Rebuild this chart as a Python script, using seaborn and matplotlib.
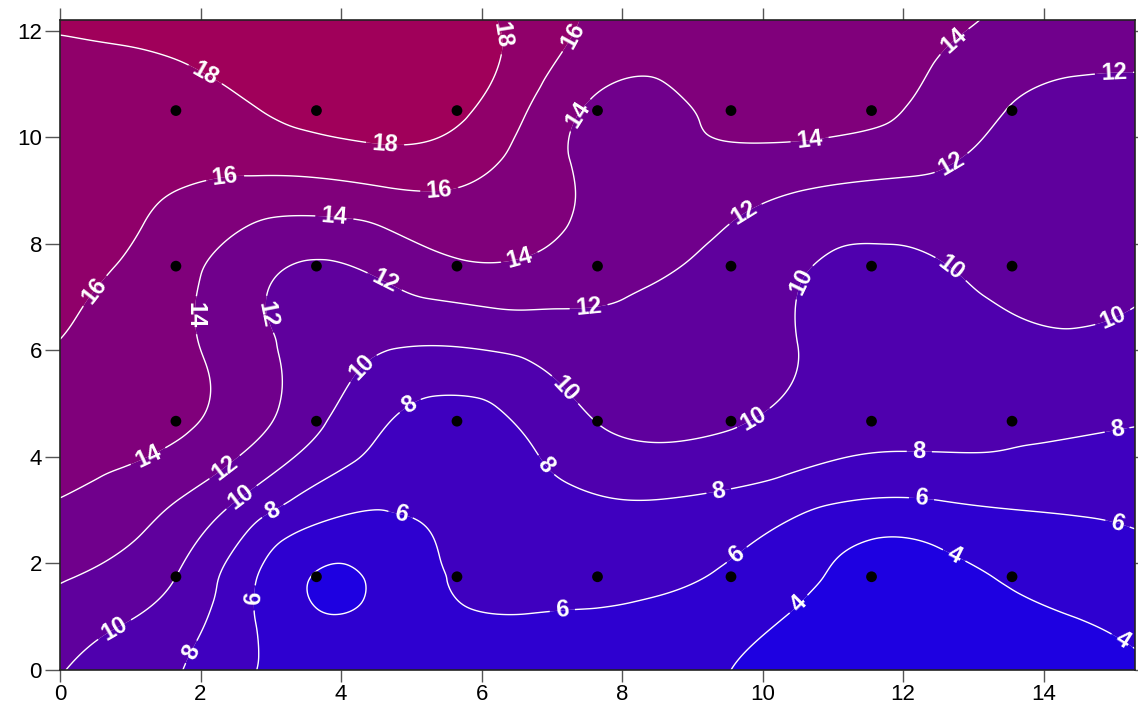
import numpy as np
import matplotlib
matplotlib.use("Agg")
import matplotlib.pyplot as plt
import matplotlib.tri as mtri
from matplotlib.colors import LinearSegmentedColormap, Normalize
import seaborn as sns
import pandas as pd

# ---- field values ----
# main nodes (columns through the sample dots plus the frame edges)
grid_x = [0.0, 1.65, 3.65, 5.65, 7.65, 9.55, 11.55, 13.55, 15.3]
grid_y = [0.0, 1.75, 4.67, 7.58, 10.5, 12.2]
z_row_00 = [10.1, 8.15, 4.8, 5.3, 5.2, 4.0, 3.3, 3.4, 3.8]
z_row_01 = [12.2, 10.0, 3.9, 6.2, 6.65, 5.65, 3.5, 4.2, 5.2]
z_row_02 = [15.2, 14.4, 10.4, 7.25, 10.05, 10.2, 8.8, 8.6, 8.15]
z_row_03 = [16.7, 14.8, 11.8, 13.7, 12.9, 11.3, 9.6, 10.55, 10.4]
z_row_04 = [17.5, 17.2, 18.6, 18.4, 13.6, 14.5, 14.4, 11.9, 11.65]
z_row_05 = [18.1, 18.5, 19.0, 18.5, 15.6, 15.2, 14.7, 13.6, 12.6]

# cell-centre nodes
mid_x = [0.825, 2.65, 4.65, 6.65, 8.6, 10.55, 12.55, 14.425]
mid_y = [0.875, 3.21, 6.125, 9.04, 11.35]
m_row_0 = [10.1, 6.4, 4.7, 5.8, 5.4, 3.7, 3.3, 3.9]
m_row_1 = [13.3, 9.7, 6.35, 7.3, 8.0, 6.7, 6.1, 6.4]
m_row_2 = [15.4, 12.8, 10.2, 10.6, 11.3, 9.95, 9.3, 9.8]
m_row_3 = [16.65, 15.5, 15.95, 15.0, 13.1, 12.1, 11.5, 11.15]
m_row_4 = [17.75, 18.5, 19.1, 17.0, 14.3, 14.6, 13.85, 12.2]

# a few extra nodes read on contour lines
extra_x = [11.55, 12.5, 7.25]
extra_y = [2.45, 2.3, 9.6]
extra_z = [4.0, 4.0, 14.0]

# sample points (black dots)
sample_x = [1.65, 3.65, 5.65, 7.65, 9.55, 11.55, 13.55]
sample_y = [1.75, 4.67, 7.58, 10.5]

levels = [2, 4, 6, 8, 10, 12, 14, 16, 18, 20]
x_ticks = [0, 2, 4, 6, 8, 10, 12, 14]
y_ticks = [0, 2, 4, 6, 8, 10, 12]

# label anchor points (where the reference puts the contour labels)
label_pos = [
    (2.06, 11.16), (4.62, 9.76), (6.07, 11.86),
    (0.57, 7.04), (2.35, 9.23), (5.4, 9.0), (7.18, 12.0),
    (1.28, 3.94), (2.06, 6.66), (3.91, 8.59), (6.54, 7.73), (7.18, 10.6),
    (10.67, 9.94), (12.66, 11.9),
    (2.3, 3.88), (2.92, 6.66), (4.69, 7.47), (7.54, 6.6), (9.74, 8.59),
    (12.66, 9.57), (15.0, 11.22),
    (0.78, 0.75), (2.56, 3.28), (4.34, 5.63), (7.18, 5.25), (9.89, 4.69),
    (10.44, 7.37), (12.63, 7.45), (15.0, 6.57),
    (1.81, 0.38), (3.06, 2.91), (4.95, 5.03), (6.97, 3.9), (9.39, 3.25),
    (12.23, 4.07), (15.05, 4.47),
    (2.82, 1.35), (4.84, 2.87), (7.16, 0.94), (9.67, 2.1), (12.26, 3.19),
    (15.05, 2.74),
    (10.38, 1.41), (12.73, 2.16), (15.08, 0.47),
]

# ---- figure ----
sns.set_theme(style="ticks")
plt.rcParams['font.family'] = ['Liberation Sans', 'DejaVu Sans']

fig = plt.figure(figsize=(11.38, 7.05), dpi=100)
ax = fig.add_axes([60/1138, 1-670/705, (1135-60)/1138, (670-20)/705])

GX, GY = np.meshgrid(grid_x, grid_y)
GZ = np.array([z_row_00, z_row_01, z_row_02, z_row_03, z_row_04, z_row_05])
MX, MY = np.meshgrid(mid_x, mid_y)
MZ = np.array([m_row_0, m_row_1, m_row_2, m_row_3, m_row_4])

px = np.concatenate([GX.ravel(), MX.ravel(), extra_x])
py = np.concatenate([GY.ravel(), MY.ravel(), extra_y])
pz = np.concatenate([GZ.ravel(), MZ.ravel(), extra_z])
tri = mtri.Triangulation(px, py)
interp = mtri.CubicTriInterpolator(tri, pz, kind='min_E')

eps = 1e-6
fx = np.linspace(grid_x[0] + eps, grid_x[-1] - eps, 500)
fy = np.linspace(grid_y[0] + eps, grid_y[-1] - eps, 400)
FX, FY = np.meshgrid(fx, fy)
FZ = np.ma.filled(interp(FX, FY), np.nan)

cmap = LinearSegmentedColormap.from_list("rb", ["#1E00E1", "#A0005A"])
norm = Normalize(vmin=3, vmax=19)
band_colors = [cmap(norm((levels[i] + levels[i+1]) / 2)) for i in range(len(levels)-1)]

ax.contourf(FX, FY, FZ, levels=levels, colors=band_colors, antialiased=True)
cs = ax.contour(FX, FY, FZ, levels=levels, colors='white', linewidths=1.0)
lbls = ax.clabel(cs, fmt='%d', fontsize=17, colors='white', inline=True,
                 inline_spacing=6, manual=label_pos)
for t in lbls:
    t.set_fontweight('bold')

SX, SY = np.meshgrid(sample_x, sample_y)
pts = pd.DataFrame({"x": SX.ravel(), "y": SY.ravel()})
sns.scatterplot(data=pts, x="x", y="y", ax=ax, color="black", s=60,
                edgecolor="none", marker="o", zorder=5)

ax.set_xlim(0, 15.3)
ax.set_ylim(0, 12.2)
ax.set_xticks(x_ticks)
ax.set_yticks(y_ticks)
ax.set_xlabel("")
ax.set_ylabel("")
ax.tick_params(axis='x', direction='out', top=True, labeltop=False,
               length=8.6, width=1.0, color='#555555', labelsize=16,
               labelcolor='black', pad=1.5)
ax.tick_params(axis='y', direction='out', right=True, labelright=False,
               length=11, width=1.0, color='#555555', labelsize=16,
               labelcolor='black', pad=2)
for s in ax.spines.values():
    s.set_visible(True)
    s.set_color('#222222')
    s.set_linewidth(1.2)

fig.savefig("out.png", dpi=100)
